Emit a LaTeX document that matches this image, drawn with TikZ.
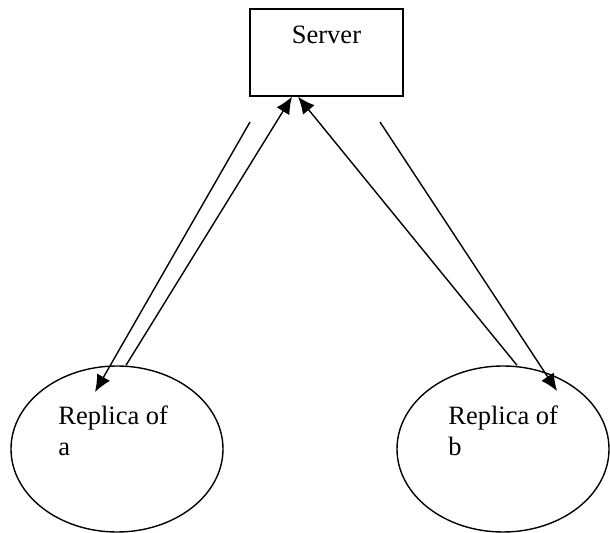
\documentclass[tikz,border=0pt]{standalone}
\usepackage{fontspec}
\setmainfont{Liberation Serif}
\usetikzlibrary{arrows.meta,calc,positioning,shapes.geometric}
\tikzset{%
	serverbox/.style   = {draw, line width=0.7pt, rectangle, inner sep=0pt, minimum width=76.5pt, text height=17.5pt, text depth=26pt},
	replica/.style     = {draw, line width=0.7pt, ellipse, inner sep=0pt, minimum width=106pt, minimum height=83pt}, % Replica
	replicatext/.style = {align=left, inner sep=0pt, anchor=north west}, % Label
	waypoint/.style    = {coordinate},
	link/.style        = {line width=0.7pt, -{Latex[length=8.5pt,width=7.5pt]}},
}
\begin{document}
\begin{tikzpicture}[x=0.5pt,y=-0.5pt,font=\fontsize{13.25}{15.5}\selectfont]
	\useasboundingbox (0,0) rectangle (610,533);
	\node [serverbox,anchor=base] (server) at (326.5,44) {Server};
	\node [replica] (ra) at (117,449) {};
	\node [replica] (rb) at (503,449) {};
	\node [replicatext] (ta) at (58,405) {Replica of\\a};
	\node [replicatext] (tb) at (448,405) {Replica of\\b};
	
	\coordinate (sa) at ([xshift=-17.25pt]server.south);
	\coordinate (sb) at ([xshift=-14.25pt]server.south);
	\coordinate (fa) at ([xshift=4.5pt]ra.north);
	\coordinate (fb) at ([xshift=7pt]rb.north);
	\node [waypoint] (outa) at (250,122) {};
	\node [waypoint] (ina) at (95,392) {};
	\node [waypoint] (outb) at (380,122) {};
	\node [waypoint] (inb) at (557,391) {};
	
	\draw[link] (outa) -- (ina);
	\draw[link] (fa) -- (sa);
	\draw[link] (fb) -- (sb);
	\draw[link] (outb) -- (inb);
\end{tikzpicture}
\end{document}
